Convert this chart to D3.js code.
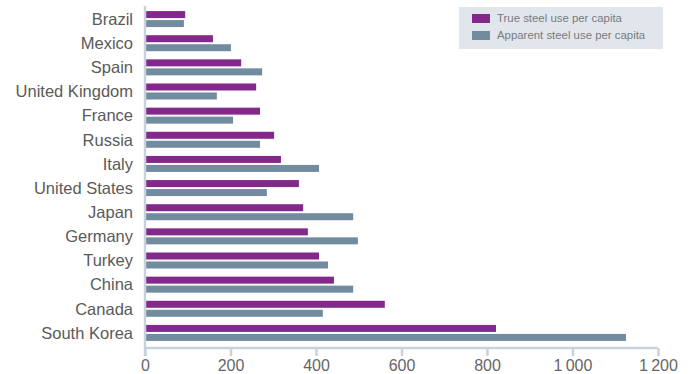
<!DOCTYPE html>
<html><head><meta charset="utf-8">
<script src="https://cdn.jsdelivr.net/npm/d3@7"></script>
<style>body{margin:0;background:#fff}svg{display:block}</style>
</head><body>
<svg id="c" width="691" height="374"></svg>
<script>
const categories = ["Brazil","Mexico","Spain","United Kingdom","France","Russia","Italy","United States","Japan","Germany","Turkey","China","Canada","South Korea"];
const trueUse = [94,159,225,260,269,302,318,360,370,381,407,442,561,821];
const apparentUse = [91,201,274,168,206,269,407,285,487,498,428,487,416,1125];
const seriesNames = ["True steel use per capita","Apparent steel use per capita"];
const xTicks = [0,200,400,600,800,1000,1200];
const colors = ["#84298c","#728c9f"];

const svg = d3.select("#c");
const x = d3.scaleLinear().domain([0,1200]).range([145,658]);
const y = d3.scaleBand().domain(categories).range([7,345]).padding(0);
const axisColor = "#c9d2dc";
const font = "'Liberation Sans', Arial, sans-serif";

// bars
const rows = svg.append("g").selectAll("g").data(categories).join("g")
  .attr("transform", d => `translate(0,${y(d)+y.bandwidth()/2})`);
rows.append("rect").attr("x", x(0)+1).attr("y", -8).attr("height", 7)
  .attr("width", (d,i) => x(trueUse[i]) - x(0) - 1).attr("fill", colors[0]);
rows.append("rect").attr("x", x(0)+1).attr("y", 1).attr("height", 7)
  .attr("width", (d,i) => x(apparentUse[i]) - x(0) - 1).attr("fill", colors[1]);
rows.append("text").attr("x", 133).attr("y", 0).attr("dy", "0.35em")
  .attr("text-anchor", "end").attr("font-family", font).attr("font-size", 16.5)
  .attr("fill", "#5a5a5a").text(d => d);

// axes
const xa = svg.append("g").attr("transform", "translate(0,348)")
  .call(d3.axisBottom(x).tickValues(xTicks).tickSize(8).tickPadding(4)
    .tickFormat(d => d3.format(",")(d).replace(",", "\u2009")));
xa.select(".domain").attr("stroke", axisColor).attr("stroke-width", 2.5)
  .attr("d", `M${x(0)},0H${x(1200)}`);
xa.selectAll(".tick line").attr("stroke", axisColor).attr("stroke-width", 2.5);
xa.selectAll(".tick text").attr("font-family", font).attr("font-size", 16).attr("fill", "#666");
svg.append("line").attr("x1", x(0)).attr("x2", x(0)).attr("y1", 6).attr("y2", 356)
  .attr("stroke", axisColor).attr("stroke-width", 2.5);

// legend
const lg = svg.append("g");
lg.append("rect").attr("x", 459).attr("y", 7).attr("width", 204).attr("height", 42).attr("fill", "#e1e6ec");
seriesNames.forEach((n,i) => {
  lg.append("rect").attr("x", 472).attr("y", 14 + i*17).attr("width", 18).attr("height", 9).attr("fill", colors[i]);
  lg.append("text").attr("x", 497).attr("y", 18.5 + i*17).attr("dy", "0.35em")
    .attr("font-family", font).attr("font-size", 11.4).attr("fill", "#7a7a80").text(n);
});
</script>
</body></html>
